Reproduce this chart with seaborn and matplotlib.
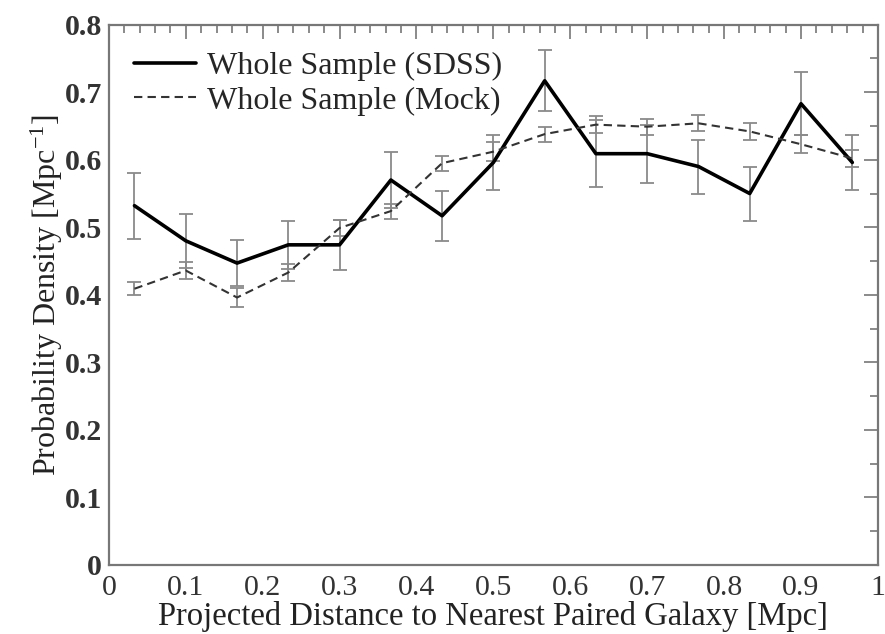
import numpy as np
import pandas as pd
import matplotlib
matplotlib.use("Agg")
import matplotlib.pyplot as plt
from matplotlib.ticker import MultipleLocator, FuncFormatter
import seaborn as sns

# Bin centres of the projected separation (Mpc)
distance = [0.0333, 0.1, 0.1667, 0.2333, 0.3, 0.3667, 0.4333, 0.5,
            0.5667, 0.6333, 0.7, 0.7667, 0.8333, 0.9, 0.9667]

# Observed SDSS probability density and its errors
sdss_density = [0.532, 0.480, 0.447, 0.474, 0.474, 0.570, 0.517, 0.596,
                0.717, 0.609, 0.609, 0.590, 0.550, 0.683, 0.596]
sdss_err = [0.049, 0.040, 0.034, 0.036, 0.037, 0.041, 0.037, 0.041,
            0.045, 0.050, 0.043, 0.040, 0.040, 0.047, 0.041]

# Mock catalogue probability density and its errors
mock_density = [0.409, 0.436, 0.396, 0.433, 0.499, 0.524, 0.595, 0.612,
                0.638, 0.652, 0.649, 0.654, 0.642, 0.623, 0.602]
mock_err = [0.010, 0.013, 0.014, 0.012, 0.012, 0.011, 0.011, 0.014,
            0.011, 0.013, 0.012, 0.012, 0.012, 0.013, 0.012]

labels = ["Whole Sample (SDSS)", "Whole Sample (Mock)"]

sns.set_style("white")
plt.rcParams["font.family"] = ["Liberation Serif", "DejaVu Serif"]
plt.rcParams["mathtext.fontset"] = "custom"
plt.rcParams["mathtext.rm"] = "Liberation Serif"
plt.rcParams["mathtext.it"] = "Liberation Serif:italic"

df = pd.DataFrame({
    "distance": distance * 2,
    "density": sdss_density + mock_density,
    "sample": [labels[0]] * len(distance) + [labels[1]] * len(distance),
})

fig = plt.figure(figsize=(8.85, 6.34), dpi=100)
ax = fig.add_axes([0.123, 0.109, 0.869, 0.852])

err_kw = dict(fmt="none", ecolor="#8a8a8a", elinewidth=1.3, capsize=5,
              capthick=1.3, zorder=1)
ax.errorbar(distance, sdss_density, yerr=sdss_err, **err_kw)
ax.errorbar(distance, mock_density, yerr=mock_err, **err_kw)

sns.lineplot(data=df, x="distance", y="density", hue="sample", style="sample",
             palette={labels[0]: "black", labels[1]: "#333333"},
             dashes={labels[0]: "", labels[1]: (4, 2.5)},
             size="sample", sizes={labels[0]: 2.6, labels[1]: 1.5},
             ax=ax, zorder=3, legend=True)

ax.set_xlim(0, 1)
ax.set_ylim(0, 0.8)
ax.xaxis.set_major_locator(MultipleLocator(0.1))
ax.xaxis.set_minor_locator(MultipleLocator(0.02))
ax.yaxis.set_major_locator(MultipleLocator(0.1))
ax.yaxis.set_minor_locator(MultipleLocator(0.05))
fmt = FuncFormatter(lambda v, p: f"{v:.1f}".rstrip("0").rstrip(".") if abs(v) > 1e-9 else "0")
ax.xaxis.set_major_formatter(fmt)
ax.yaxis.set_major_formatter(fmt)

ax.tick_params(which="both", direction="in", top=True, right=True,
               color="#777777", width=1.2, labelsize=21.5, labelcolor="#333333")
ax.tick_params(which="major", length=10)
ax.tick_params(which="minor", length=5.5)
ax.tick_params(axis="x", pad=7)
ax.tick_params(axis="y", pad=5)
for lab in ax.get_yticklabels():
    lab.set_fontweight("bold")
for s in ax.spines.values():
    s.set_color("#777777")
    s.set_linewidth(1.6)

ax.set_xlabel("Projected Distance to Nearest Paired Galaxy [Mpc]",
              fontsize=23.5, color="#222222", labelpad=0)
ax.set_ylabel(r"Probability Density [Mpc$^{\mathrm{-1}}$]",
              fontsize=23, color="#222222", labelpad=0)

handles, labs = ax.get_legend_handles_labels()
seen = {}
for h, l in zip(handles, labs):
    if l in labels:
        seen.setdefault(l, h)
ax.legend([seen[l] for l in labels], labels, loc="upper left", frameon=False,
          fontsize=23, handlelength=1.95, handletextpad=0.35,
          borderaxespad=0.0, labelspacing=0.15, borderpad=0.3,
          bbox_to_anchor=(0.02, 0.967))

fig.savefig("out.png", dpi=100)
